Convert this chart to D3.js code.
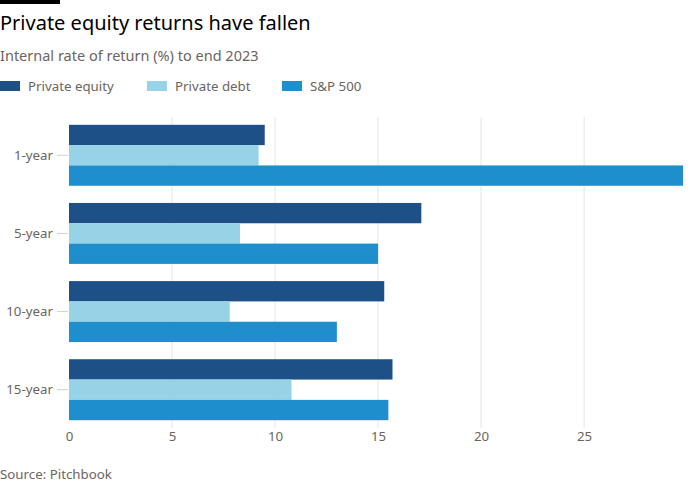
<!DOCTYPE html>
<html><head><meta charset="utf-8">
<script src="https://cdn.jsdelivr.net/npm/d3@7"></script>
<style>body{margin:0;background:#fff;font-family:"Noto Sans",sans-serif;}</style>
</head><body>
<svg id="c" width="700" height="500"></svg>
<script>
const categories = ["1-year","5-year","10-year","15-year"];
const seriesNames = ["Private equity","Private debt","S&P 500"];
const privateEquity = [9.5, 17.1, 15.3, 15.7];
const privateDebt = [9.2, 8.3, 7.8, 10.8];
const sp500 = [29.8, 15.0, 13.0, 15.5];
const xTicks = [0,5,10,15,20,25];
const colors = ["#1e5088","#97d3e7","#1f8ecd"];

const series = [privateEquity, privateDebt, sp500];
const svg = d3.select("#c");
const font = '"Noto Sans",sans-serif';

svg.append("rect").attr("x",0).attr("y",0).attr("width",60).attr("height",4).attr("fill","#000");
svg.append("text").attr("x",0).attr("y",30).attr("font-size",20).attr("fill","#000").attr("font-family",font).text("Private equity returns have fallen");
svg.append("text").attr("x",0).attr("y",61).attr("font-size",14.5).attr("fill","#6b6561").attr("font-family",font).text("Internal rate of return (%) to end 2023");

const legX = [0,147,282];
seriesNames.forEach((n,i)=>{
  svg.append("rect").attr("x",legX[i]).attr("y",81).attr("width",20).attr("height",10).attr("fill",colors[i]);
  svg.append("text").attr("x",legX[i]+28).attr("y",91).attr("font-size",13.3).attr("fill","#6b6561").attr("font-family",font).text(n);
});

const x = d3.scaleLinear().domain([0, d3.max(sp500)]).range([69, 683]);
const y = d3.scaleBand().domain(categories).range([117, 428]).paddingInner(0.22).paddingOuter(0.1);
const y1 = d3.scaleBand().domain(d3.range(3)).range([0, y.bandwidth()]);

// grid
svg.append("g").selectAll("line").data(xTicks.slice(1)).join("line")
  .attr("x1",d=>x(d)).attr("x2",d=>x(d)).attr("y1",117).attr("y2",428)
  .attr("stroke","#e8e5e2").attr("stroke-width",1);

categories.forEach((c,ci)=>{
  series.forEach((s,si)=>{
    svg.append("rect").attr("x",x(0)).attr("y",y(c)+y1(si)).attr("width",x(s[ci])-x(0)).attr("height",y1.bandwidth()).attr("fill",colors[si]);
  });
});

const xa = svg.append("g").attr("transform","translate(0,428)").call(d3.axisBottom(x).tickValues(xTicks).tickSize(0).tickPadding(4));
xa.select(".domain").remove();
xa.selectAll("text").attr("font-size",13.3).attr("fill","#6b6561").attr("font-family",font);

const ya = svg.append("g").attr("transform","translate(68,0)").call(d3.axisLeft(y).tickSize(11).tickPadding(4));
ya.select(".domain").remove();
ya.selectAll("line").attr("stroke","#d4cfcb");
ya.selectAll("text").attr("font-size",13.3).attr("fill","#6b6561").attr("font-family",font);

svg.append("text").attr("x",0).attr("y",479).attr("font-size",13.3).attr("fill","#6b6561").attr("font-family",font).text("Source: Pitchbook");
</script>
</body></html>
